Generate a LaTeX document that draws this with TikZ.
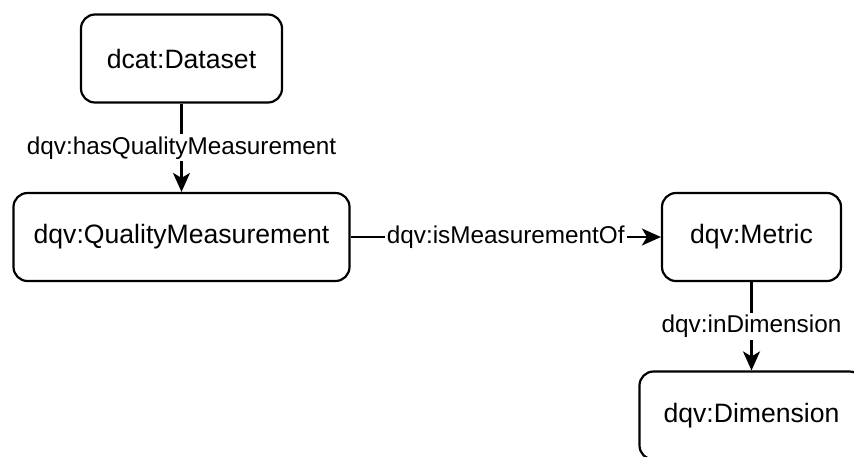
\documentclass[tikz,border=0pt]{standalone}
\usepackage{fontspec}
\setmainfont{Liberation Sans}
\usepackage{tikz}
\usetikzlibrary{arrows.meta}
\usetikzlibrary{positioning}
\tikzset{box/.style = {draw, line width=1.1pt, rounded corners=7pt,
                       minimum height=44pt, inner sep=0pt,
                       font=\fontsize{13.3}{16}\selectfont},
         lbl/.style = {fill=white, inner sep=1pt,
                       font=\fontsize{12.15}{14}\selectfont},
         arr/.style = {line width=1.05pt,
                       -{Stealth[length=9.5pt, width=8.5pt, inset=2.5pt]}}}

\begin{document}
\begin{tikzpicture}[x=0.5pt, y=-0.5pt]
      \clip (0, 0) rectangle (854, 456);
      \node [box, minimum width=100.5pt] (dataset) at (181.5, 58.5) {dcat:Dataset};
      \node [box, minimum width=168pt] (qm) at (181.5, 237) {dqv:QualityMeasurement};
      \node [box, minimum width=89.5pt] (metric) at (751.5, 237) {dqv:Metric};
      \node [box, minimum width=112pt] (dimension) at (751.5, 415.5) {dqv:Dimension};

      \draw [arr] (dataset) -- (qm) node [lbl, midway] {dqv:hasQualityMeasurement};
      \draw [arr] (qm) -- (metric) node [lbl, midway] {dqv:isMeasurementOf};
      \draw [arr] (metric) -- (dimension) node [lbl, midway] {dqv:inDimension};
\end{tikzpicture}
\end{document}
